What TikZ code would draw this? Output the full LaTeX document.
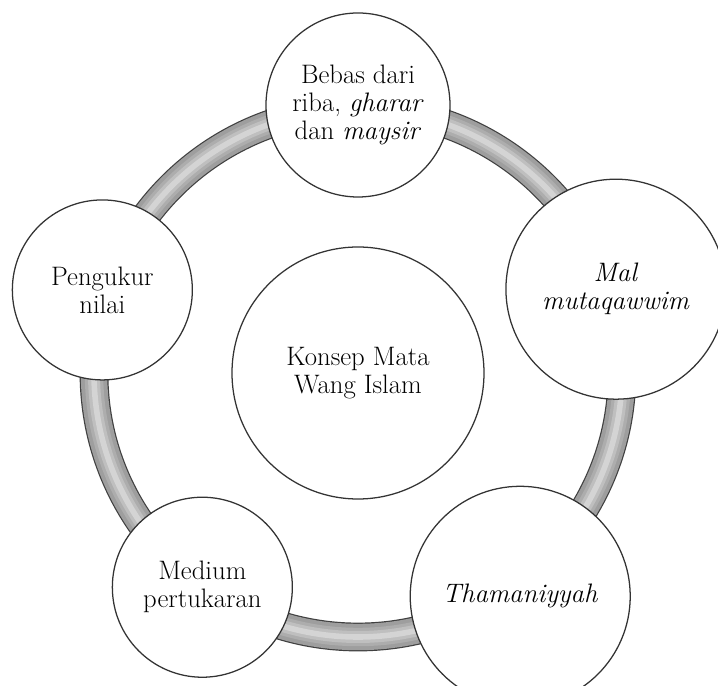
\documentclass[tikz,border=0pt]{standalone}
\usepackage{xcolor}
\usetikzlibrary{calc}

\begin{document}
\begin{tikzpicture}[
    bubble/.style={circle, draw=black!80, line width=0.9pt, fill=white, align=center,
      inner sep=0pt, font=\fontsize{19}{20}\selectfont},
    ringedge/.style={draw=black!75, line width=0.72cm},
    ringband/.style={draw=black!38, line width=0.66cm}]
  \useasboundingbox (-8.95,-7.825) rectangle (9.0,9.325);
  \coordinate (o) at (0,0);

  % the band behind the circles
  \draw[ringedge] (o) circle (6.6);
  \draw[ringband] (o) circle (6.6);
  \draw[draw=black!32, line width=0.46cm] (o) circle (6.6);
  \draw[draw=black!25, line width=0.3cm] (o) circle (6.6);
  \draw[draw=black!17, line width=0.14cm] (o) circle (6.6);

  \node[bubble, minimum size=6.3cm] (konsep) at (o) {Konsep Mata\\Wang Islam};
  \node[bubble, minimum size=4.6cm] (riba) at (90:6.7) {Bebas dari\\riba, \textit{gharar}\\dan \textit{maysir}};
  \node[bubble, minimum size=5.5cm] (mal) at (18:6.78) {\textit{Mal}\\\textit{mutaqawwim}};
  \node[bubble, minimum size=5.5cm] (thaman) at (-54:6.9) {\textit{Thamaniyyah}};
  \node[bubble, minimum size=4.5cm] (medium) at (-126:6.62) {Medium\\pertukaran};
  \node[bubble, minimum size=4.5cm] (ukur) at (162:6.72) {Pengukur\\nilai};
\end{tikzpicture}
\end{document}
